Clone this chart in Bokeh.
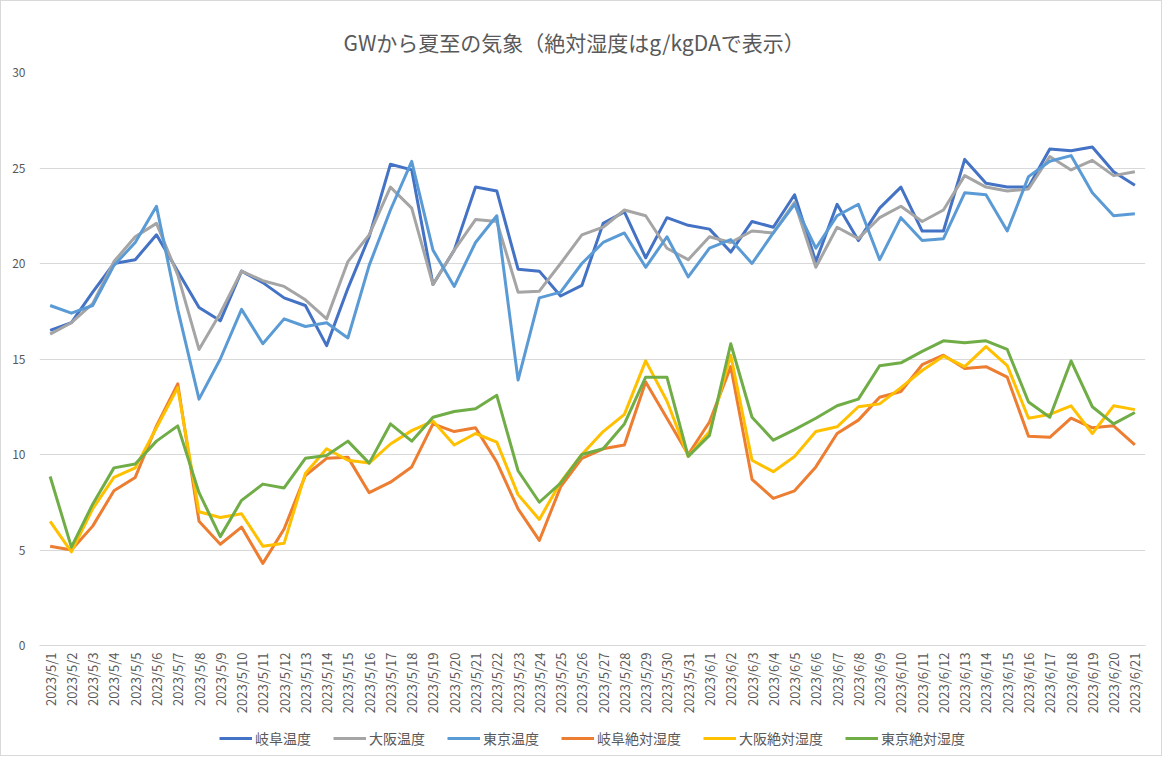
import math
from bokeh.plotting import figure
from bokeh.layouts import column
from bokeh.models import Legend, LegendItem, FixedTicker, Range1d
from bokeh.embed import file_html
from bokeh.resources import INLINE

dates = ["2023/5/%d" % d for d in range(1, 32)] + ["2023/6/%d" % d for d in range(1, 22)]

gifu_temp = [16.5, 16.9, 18.5, 20.0, 20.2, 21.5, 19.6, 17.7, 17.0, 19.6,
             19.0, 18.2, 17.8, 15.7, 18.7, 21.4, 25.2, 24.9, 18.9, 20.7,
             24.0, 23.8, 19.7, 19.6, 18.3, 18.85, 22.1, 22.7, 20.3, 22.4,
             22.0, 21.8, 20.6, 22.2, 21.9, 23.6, 20.1, 23.1, 21.2, 22.9,
             24.0, 21.7, 21.7, 25.45, 24.2, 24.0, 24.0, 26.0, 25.9, 26.1,
             24.8, 24.1]
osaka_temp = [16.3, 16.9, 17.9, 20.1, 21.4, 22.1, 19.4, 15.5, 17.4, 19.6,
              19.1, 18.8, 18.1, 17.1, 20.1, 21.5, 24.0, 22.9, 18.9, 20.7,
              22.3, 22.2, 18.5, 18.55, 20.0, 21.5, 21.9, 22.8, 22.5, 20.8,
              20.2, 21.4, 21.1, 21.7, 21.6, 23.2, 19.8, 21.9, 21.3, 22.4,
              23.0, 22.2, 22.8, 24.6, 24.0, 23.8, 23.9, 25.6, 24.9, 25.4,
              24.6, 24.8]
tokyo_temp = [17.8, 17.4, 17.8, 19.9, 21.1, 23.0, 17.6, 12.9, 15.0, 17.6,
              15.8, 17.1, 16.7, 16.9, 16.1, 19.9, 22.8, 25.35, 20.7, 18.8,
              21.1, 22.5, 13.9, 18.2, 18.5, 20.0, 21.1, 21.6, 19.8, 21.4,
              19.3, 20.8, 21.25, 20.0, 21.6, 23.1, 20.8, 22.5, 23.1, 20.2,
              22.4, 21.2, 21.3, 23.7, 23.6, 21.7, 24.55, 25.35, 25.65, 23.7,
              22.5, 22.6]
gifu_hum = [5.2, 5.0, 6.25, 8.1, 8.8, 11.5, 13.7, 6.5, 5.3, 6.2,
            4.3, 6.1, 8.9, 9.8, 9.85, 8.0, 8.55, 9.35, 11.6, 11.2,
            11.4, 9.6, 7.15, 5.5, 8.3, 9.8, 10.3, 10.5, 13.8, 11.9,
            10.0, 11.7, 14.6, 8.7, 7.7, 8.1, 9.35, 11.1, 11.8, 13.0,
            13.3, 14.7, 15.2, 14.5, 14.6, 14.05, 10.95, 10.9, 11.9, 11.4,
            11.5, 10.5]
osaka_hum = [6.5, 4.9, 7.15, 8.8, 9.3, 11.4, 13.5, 7.0, 6.7, 6.9,
             5.2, 5.35, 9.0, 10.3, 9.7, 9.55, 10.55, 11.25, 11.75, 10.5,
             11.1, 10.65, 7.9, 6.6, 8.55, 10.0, 11.2, 12.1, 14.9, 12.8,
             9.9, 11.2, 15.2, 9.7, 9.1, 9.9, 11.2, 11.45, 12.5, 12.65,
             13.5, 14.4, 15.15, 14.6, 15.65, 14.65, 11.9, 12.1, 12.55, 11.1,
             12.55, 12.35]
tokyo_hum = [8.85, 5.15, 7.4, 9.3, 9.5, 10.7, 11.5, 8.0, 5.7, 7.6,
             8.45, 8.25, 9.8, 9.95, 10.7, 9.55, 11.6, 10.7, 11.95, 12.25,
             12.4, 13.1, 9.15, 7.5, 8.5, 10.0, 10.3, 11.6, 14.05, 14.05,
             9.9, 11.0, 15.8, 11.95, 10.75, 11.3, 11.9, 12.55, 12.9, 14.65,
             14.8, 15.4, 15.95, 15.85, 15.95, 15.5, 12.75, 11.95, 14.9, 12.5,
             11.6, 12.2]

series_names = ["岐阜温度", "大阪温度", "東京温度", "岐阜絶対湿度", "大阪絶対湿度", "東京絶対湿度"]
series_vals = [gifu_temp, osaka_temp, tokyo_temp, gifu_hum, osaka_hum, tokyo_hum]
colors = ["#4472C4", "#A5A5A5", "#5B9BD5", "#ED7D31", "#FFC000", "#70AD47"]
y_ticks = [0, 5, 10, 15, 20, 25, 30]

FONT = "Noto Sans CJK JP"
GREY = "#595959"

p = figure(width=1160, height=720, x_range=dates, y_range=Range1d(0, 30),
           output_backend="svg", toolbar_location=None,
           min_border_left=38, min_border_right=16, min_border_top=71, min_border_bottom=76)

p.title.text = "GWから夏至の気象（絶対湿度はg/kgDAで表示）"
p.title.align = "left"
p.title.text_font = FONT
p.title.text_font_size = "21px"
p.title.text_font_style = "normal"
p.title.text_color = GREY
p.title.offset = 304
p.title.standoff = 32

p.outline_line_color = None
p.xgrid.grid_line_color = None
p.ygrid.grid_line_color = "#D9D9D9"
p.ygrid.grid_line_width = 1
p.yaxis.ticker = FixedTicker(ticks=y_ticks)
p.yaxis.axis_line_color = None
p.yaxis.major_tick_line_color = None
p.yaxis.minor_tick_line_color = None
p.yaxis.major_tick_out = 0
p.yaxis.major_tick_in = 0
p.yaxis.major_label_text_font = FONT
p.yaxis.major_label_text_font_size = "12px"
p.yaxis.major_label_text_color = GREY
p.yaxis.major_label_standoff = 14

p.xaxis.axis_line_color = "#D9D9D9"
p.xaxis.major_tick_line_color = None
p.xaxis.minor_tick_line_color = None
p.xaxis.major_tick_out = 0
p.xaxis.major_tick_in = 0
p.xaxis.major_label_orientation = math.pi / 2
p.xaxis.major_label_text_font = FONT
p.xaxis.major_label_text_font_size = "13px"
p.xaxis.major_label_text_color = GREY
p.xaxis.major_label_standoff = 7

for name, vals, c in zip(series_names, series_vals, colors):
    p.line(x=dates, y=vals, line_color=c, line_width=3, line_join="round")

# legend strip below the chart (its lines lie outside this strip's ranges, only the legend shows)
lf = figure(width=1160, height=34, x_range=Range1d(-2, -1), y_range=Range1d(-2, -1),
            output_backend="svg", toolbar_location=None, min_border=0)
lf.xaxis.visible = False
lf.yaxis.visible = False
lf.xgrid.visible = False
lf.ygrid.visible = False
lf.outline_line_color = None

items = []
for name, vals, c in zip(series_names, series_vals, colors):
    r = lf.line(x=list(range(len(vals))), y=vals, line_color=c, line_width=3)
    items.append(LegendItem(label=name, renderers=[r]))

legend = Legend(items=items, orientation="horizontal", location="center",
                label_text_font=FONT, label_text_font_size="14px", label_text_color=GREY,
                label_height=16, glyph_width=33, glyph_height=16, spacing=22, label_standoff=3,
                border_line_color=None, background_fill_alpha=0, margin=0, padding=0)
lf.add_layout(legend, "center")

layout = column(p, lf, spacing=0)
layout.styles = {"border": "1px solid #D9D9D9"}

open("out.html", "w").write(file_html(layout, INLINE))
